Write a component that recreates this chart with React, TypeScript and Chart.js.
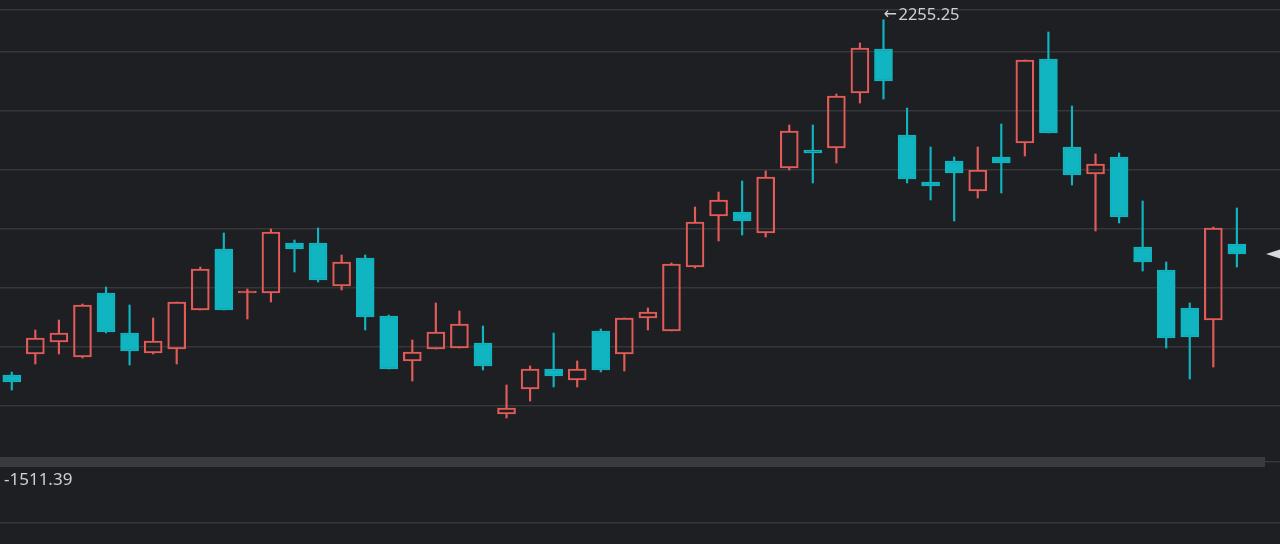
import React, { useEffect, useRef } from "react";
import { Chart, registerables } from "chart.js";

Chart.register(...registerables);

// ---- data (OHLC per candle) ----
const opens = [
  1900, 1921, 1933, 1918, 1982, 1942, 1922, 1926, 1965, 2026,
  1982, 1982, 2032, 2032, 1989, 2017, 1959, 1914, 1926, 1927,
  1932, 1861, 1886, 1906, 1895, 1944, 1921, 1957, 1944, 2008,
  2059, 2063, 2042, 2107, 2125, 2127, 2182, 2226, 2140, 2093,
  2114, 2084, 2118, 2132, 2216, 2128, 2101, 2118, 2028, 2005,
  1967, 1955, 2031,
];
const closes = [
  1893, 1937, 1942, 1970, 1943, 1924, 1934, 1973, 2006, 1965,
  1982.5, 2043, 2026, 1995, 2013, 1958, 1906, 1923, 1943, 1951,
  1909, 1867, 1906, 1899, 1906, 1905, 1957, 1963, 2011, 2053,
  2075, 2054, 2098, 2144, 2122, 2179, 2227, 2194, 2096, 2089,
  2102, 2105, 2112, 2215, 2142, 2100, 2111, 2058, 2013, 1937,
  1938, 2047, 2021,
];
const highs = [
  1903, 1945, 1955, 1971, 1988, 1970, 1957, 1973, 2008, 2042,
  1986, 2046, 2035, 2047, 2020, 2020, 1960, 1935, 1972, 1964,
  1949, 1890, 1909, 1942, 1914, 1946, 1957, 1967, 2012, 2068,
  2083, 2094, 2104, 2150, 2150, 2181, 2232, 2255.25, 2167, 2128,
  2118, 2128, 2151, 2215, 2243, 2169, 2121, 2122, 2074, 2013,
  1972, 2048, 2067,
];
const lows = [
  1885, 1911, 1921, 1917, 1942, 1910, 1921, 1911, 1965, 1965,
  1956, 1973, 2003, 1993, 1985, 1945, 1906, 1894, 1926, 1927,
  1905, 1857, 1874, 1888, 1888, 1903, 1904, 1945, 1944, 2007,
  2034, 2040, 2038, 2105, 2092, 2112, 2172, 2176, 2092, 2075,
  2054, 2077, 2082, 2119, 2142, 2090, 2044, 2052, 2004, 1927,
  1896, 1908, 2008,
];

// horizontal grid levels of the main panel and the lower panel
const gridValues = [2265, 2223, 2164, 2105, 2046, 1987, 1928, 1869, 1813, 1752];
const separatorValue = 1813;
const lowerPanelLabel = "-1511.39";

// ---- styles ----
const BG = "#1e1f22";
const GRID = "#36373b";
const SEP = "#3a3b3f";
const UP = "#e35b58";
const DOWN = "#10b5c1";
const TEXT = "#d0d0d2";

const isUp = (i: number) => closes[i] >= opens[i];
const colorOf = (i: number) => (isUp(i) ? UP : DOWN);

const labelsPlugin = {
  id: "candleLabels",
  beforeDatasetsDraw(chart: any) {
    const { ctx, chartArea } = chart;
    const ys = chart.scales.y;
    const ySep = ys.getPixelForValue(separatorValue);
    ctx.save();
    ctx.fillStyle = SEP;
    ctx.fillRect(chartArea.left, ySep - 5, chartArea.right - chartArea.left - 15, 10);
    ctx.restore();
  },
  afterDatasetsDraw(chart: any) {
    const { ctx, chartArea } = chart;
    const xs = chart.scales.x;
    const ys = chart.scales.y;
    let maxI = 0;
    highs.forEach((h, i) => {
      if (h > highs[maxI]) maxI = i;
    });
    ctx.save();
    ctx.fillStyle = TEXT;
    ctx.textAlign = "left";
    ctx.textBaseline = "alphabetic";
    const hx = xs.getPixelForValue(maxI);
    const hy = ys.getPixelForValue(highs[maxI]);
    ctx.font = '16px "DejaVu Sans"';
    ctx.fillText("\u2190", hx, hy - 1);
    ctx.font = '16.5px "Noto Sans"';
    ctx.fillText(highs[maxI].toFixed(2), hx + 15, hy);
    ctx.font = '17px "Noto Sans"';
    ctx.fillText(lowerPanelLabel, chartArea.left + 4, ys.getPixelForValue(separatorValue) + 23);

    // last close marker
    const last = closes.length - 1;
    const yc = ys.getPixelForValue(closes[last]);
    const r = chartArea.right;
    ctx.fillStyle = "#d8d8da";
    ctx.beginPath();
    ctx.moveTo(r - 14, yc);
    ctx.lineTo(r, yc - 4.5);
    ctx.lineTo(r, yc + 4.5);
    ctx.closePath();
    ctx.fill();
    ctx.restore();
  },
};

export default function App() {
  const ref = useRef<HTMLCanvasElement | null>(null);

  useEffect(() => {
    if (!ref.current) return;
    const idx = opens.map((_, i) => i);
    const bodies = idx.map((i) => ({ x: i, y: [opens[i], closes[i]] }));
    const upperWicks = idx.map((i) => ({
      x: i,
      y: [Math.max(opens[i], closes[i]), highs[i]],
    }));
    const lowerWicks = idx.map((i) => ({
      x: i,
      y: [lows[i], Math.min(opens[i], closes[i])],
    }));
    const colors = idx.map(colorOf);

    const chart = new Chart(ref.current, {
      type: "bar",
      data: {
        datasets: [
          {
            label: "body",
            data: bodies as any,
            grouped: false,
            barThickness: 18,
            minBarLength: 2,
            borderSkipped: false,
            borderWidth: 1.5,
            borderColor: colors,
            backgroundColor: idx.map((i) => (isUp(i) ? "rgba(0,0,0,0)" : DOWN)),
            order: 0,
          } as any,
          {
            label: "upper",
            data: upperWicks as any,
            grouped: false,
            barThickness: 1.5,
            borderWidth: 0,
            backgroundColor: colors,
            order: 1,
          } as any,
          {
            label: "lower",
            data: lowerWicks as any,
            grouped: false,
            barThickness: 1.5,
            borderWidth: 0,
            backgroundColor: colors,
            order: 1,
          } as any,
        ],
      },
      options: {
        responsive: false,
        animation: false,
        layout: { padding: 0 },
        plugins: {
          legend: { display: false },
          tooltip: { enabled: false },
        },
        scales: {
          x: {
            type: "linear",
            min: -0.5,
            max: 53.83,
            offset: false,
            display: false,
          },
          y: {
            type: "linear",
            min: 1731,
            max: 2275,
            position: "left",
            ticks: { display: false },
            border: { display: false },
            grid: {
              drawTicks: false,
              color: GRID,
              lineWidth: 1.5,
            },
            afterBuildTicks: (scale: any) => {
              scale.ticks = gridValues.map((v) => ({ value: v }));
            },
          },
        },
      } as any,
      plugins: [labelsPlugin],
    });
    return () => chart.destroy();
  }, []);

  return (
    <div
      style={{
        position: "fixed",
        left: 0,
        top: 0,
        width: 1280,
        height: 544,
        background: BG,
      }}
    >
      <canvas ref={ref} width={1280} height={544} style={{ display: "block" }} />
    </div>
  );
}
